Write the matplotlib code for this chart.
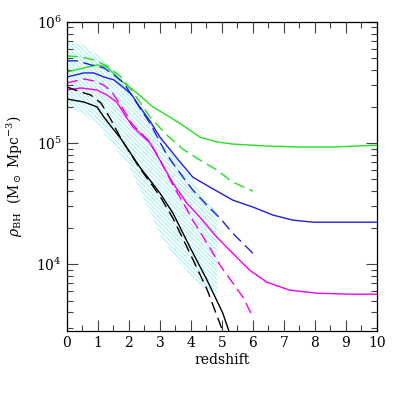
import matplotlib
matplotlib.use('Agg')
import matplotlib.pyplot as plt
from matplotlib.ticker import LogLocator, NullFormatter, MultipleLocator

plt.rcParams['font.family'] = 'DejaVu Serif'
plt.rcParams['mathtext.fontset'] = 'dejavuserif'
plt.rcParams['hatch.linewidth'] = 0.6

# cyan hatched band (observational range)
band_z = [0, 0.5, 1, 1.5, 2, 2.5, 3, 3.5, 4, 4.5, 4.85]
band_hi = [6.83e5, 6.58e5, 5.34e5, 4.01e5, 2.74e5, 1.80e5, 1.16e5, 7.96e4, 5.14e4, 3.38e4, 2.69e4]
band_lo = [1.95e5, 1.77e5, 1.41e5, 9.6e4, 6.58e4, 3.38e4, 1.74e4, 1.12e4, 8.1e3, 6.1e3, 5.45e3]

# green
green_z = [0, 0.55, 0.97, 1.29, 1.71, 2.26, 2.77, 3.32, 3.81, 4.29, 4.84, 5.35, 6.45, 7.52, 8.58, 10.0]
green_y = [3.86e5, 4.17e5, 4.42e5, 4.25e5, 3.32e5, 2.59e5, 1.99e5, 1.64e5, 1.36e5, 1.12e5,
           1.02e5, 9.8e4, 9.45e4, 9.27e4, 9.27e4, 9.6e4]
green_dz = [0, 0.45, 0.87, 1.29, 1.71, 2.13, 2.68, 3.23, 3.74, 4.29, 4.84, 5.35, 6.0]
green_dy = [5.24e5, 5.14e5, 4.86e5, 4.33e5, 3.58e5, 2.64e5, 1.64e5, 1.16e5, 8.9e4, 7.24e4,
            5.98e4, 4.76e4, 4.01e4]

# blue
blue_z = [0, 0.55, 0.87, 1.19, 1.52, 1.84, 2.10, 2.35, 2.68, 3.0, 3.55, 4.06, 4.61, 5.35,
          6.0, 6.65, 7.29, 7.94, 10.0]
blue_y = [3.51e5, 3.79e5, 3.79e5, 3.51e5, 3.32e5, 2.85e5, 2.49e5, 1.99e5, 1.52e5, 1.12e5,
          7.5e4, 5.23e4, 4.33e4, 3.38e4, 2.96e4, 2.54e4, 2.31e4, 2.22e4, 2.22e4]
blue_dz = [0, 0.32, 0.77, 1.19, 1.52, 1.84, 2.35, 2.68, 3.0, 3.23, 3.65, 4.06, 4.52, 4.94, 5.35, 6.0]
blue_dy = [4.77e5, 4.77e5, 4.42e5, 4.17e5, 3.65e5, 3.13e5, 1.95e5, 1.46e5, 1.02e5, 7.96e4,
           5.65e4, 4.09e4, 3.07e4, 2.40e4, 1.80e4, 1.23e4]

# magenta
mag_z = [0, 0.45, 0.97, 1.29, 1.61, 1.87, 2.13, 2.68, 3.0, 3.42, 3.87, 4.29, 4.84, 5.35,
         5.90, 6.45, 7.19, 8.06, 9.13, 10.0]
mag_y = [2.74e5, 2.85e5, 2.74e5, 2.49e5, 2.18e5, 1.70e5, 1.36e5, 1.0e5, 7.24e4, 4.67e4,
         3.19e4, 2.44e4, 1.67e4, 1.23e4, 8.9e3, 7.1e3, 6.1e3, 5.76e3, 5.65e3, 5.65e3]
mag_dz = [0, 0.55, 0.87, 1.19, 1.45, 1.71, 2.13, 2.68, 3.0, 3.42, 3.81, 4.06, 4.52, 4.94,
          5.35, 5.68, 6.0]
mag_dy = [3.13e5, 3.38e5, 3.25e5, 3.01e5, 2.64e5, 2.10e5, 1.41e5, 1.02e5, 7.24e4, 4.5e4,
          3.01e4, 2.31e4, 1.49e4, 9.8e3, 7.0e3, 5.34e3, 3.65e3]

# black
blk_z = [0, 0.55, 0.97, 1.19, 1.52, 1.77, 2.35, 2.68, 3.0, 3.42, 3.97, 4.52, 5.03, 5.23, 5.4]
blk_y = [2.31e5, 2.18e5, 1.99e5, 1.64e5, 1.28e5, 1.06e5, 6.34e4, 4.94e4, 3.86e4, 2.64e4,
         1.38e4, 7.4e3, 3.94e3, 2.79e3, 2.18e3]
blk_dz = [0, 0.45, 0.77, 1.10, 1.39, 1.77, 2.35, 2.68, 3.0, 3.42, 3.97, 4.52, 5.03, 5.2]
blk_dy = [2.90e5, 2.64e5, 2.49e5, 2.14e5, 1.61e5, 1.06e5, 6.2e4, 4.76e4, 3.65e4, 2.40e4,
          1.23e4, 6.2e3, 2.79e3, 2.1e3]

fig = plt.figure(figsize=(3.98, 3.98), dpi=100)
ax = fig.add_axes([0.168, 0.168, 0.779, 0.777])

ax.fill_between(band_z, band_lo, band_hi, facecolor='none', edgecolor='#96ecec',
                hatch='\\' * 8, linewidth=0)

dash = (8, 4)
for z, y, zd, yd, c in [(green_z, green_y, green_dz, green_dy, '#22e022'),
                        (blue_z, blue_y, blue_dz, blue_dy, '#2020d8'),
                        (mag_z, mag_y, mag_dz, mag_dy, '#f000f0'),
                        (blk_z, blk_y, blk_dz, blk_dy, 'black')]:
    ax.plot(z, y, color=c, lw=1.0)
    ax.plot(zd, yd, color=c, lw=1.0, dashes=dash)

ax.set_yscale('log')
ax.set_xlim(0, 10)
ax.set_ylim(2.8e3, 1e6)
ax.xaxis.set_major_locator(MultipleLocator(1))
ax.xaxis.set_minor_locator(MultipleLocator(0.5))
ax.yaxis.set_major_locator(LogLocator(base=10))
ax.yaxis.set_minor_locator(LogLocator(base=10, subs=range(2, 10)))
ax.yaxis.set_minor_formatter(NullFormatter())
ax.tick_params(which='both', direction='in', top=True, right=True, labelsize=10,
               color='#444444')
ax.tick_params(which='major', length=8, width=0.8)
ax.tick_params(which='minor', length=4, width=0.8)
for s in ax.spines.values():
    s.set_linewidth(0.9)

ax.set_xlabel('redshift', fontsize=10, labelpad=2)
ax.set_ylabel(r'$\rho_{\rm BH}$  (M$_\odot$ Mpc$^{-3}$)', fontsize=10, labelpad=8)

fig.savefig('out.png', dpi=100)
